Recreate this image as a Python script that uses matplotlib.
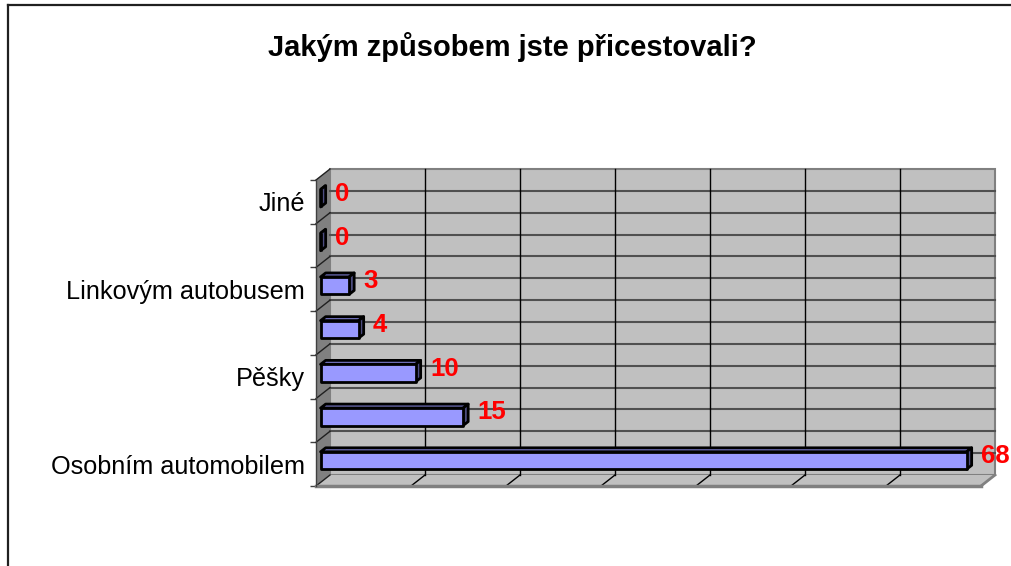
import matplotlib
matplotlib.use("Agg")
import matplotlib.pyplot as plt
import numpy as np
from matplotlib.patches import Polygon
from matplotlib.lines import Line2D

plt.rcParams['font.family'] = ['Liberation Sans', 'DejaVu Sans']

# ---- data (bottom to top) ----
categories = ['Osobním automobilem', '', 'Pěšky', '', 'Linkovým autobusem', '', 'Jiné']
values = [68, 15, 10, 4, 3, 0, 0]
title = 'Jakým způsobem jste přicestovali?'
x_max = 70
x_grid = [10, 20, 30, 40, 50, 60]

W_PX, H_PX = 1011, 566
fig = plt.figure(figsize=(W_PX / 100, H_PX / 100), dpi=100)
fig.patch.set_facecolor('white')

# front plane of the 3D box
left_px, right_px, top_px, bottom_px = 316, 981, 180, 486
ax = fig.add_axes([left_px / W_PX, 1 - bottom_px / H_PX,
                   (right_px - left_px) / W_PX, (bottom_px - top_px) / H_PX])
n = len(categories)
ax.set_xlim(0, x_max)
ax.set_ylim(0, n)
ax.patch.set_visible(False)
for s in ax.spines.values():
    s.set_visible(False)

# depth offset (pixels -> data units)
depth_px = (14, 11)
DX = depth_px[0] / (ax.bbox.width / x_max)
DY = depth_px[1] / (ax.bbox.height / n)


def P(x, y, d):
    return (x + d * DX, y + d * DY)


def poly(pts, **kw):
    p = Polygon(pts, closed=True, clip_on=False, **kw)
    ax.add_patch(p)
    return p


def line(p1, p2, **kw):
    ax.add_line(Line2D([p1[0], p2[0]], [p1[1], p2[1]], clip_on=False, **kw))


# back wall
poly([P(0, 0, 1), P(x_max, 0, 1), P(x_max, n, 1), P(0, n, 1)],
     facecolor='#C0C0C0', edgecolor='#808080', lw=1.5, zorder=1)
for k in np.arange(0.5, n, 0.5):
    line(P(0, k, 1), P(x_max, k, 1), color='#505050', lw=1.5, zorder=2)
for v in x_grid:
    line(P(v, 0, 1), P(v, n, 1), color='black', lw=1.0, zorder=2)

# floor
poly([P(0, 0, 0), P(x_max, 0, 0), P(x_max, 0, 1), P(0, 0, 1)],
     facecolor='#C0C0C0', edgecolor='none', zorder=1)
line(P(0, 0, 0), P(x_max, 0, 0), color='#808080', lw=2.5, zorder=3)
line(P(x_max, 0, 0), P(x_max, 0, 1), color='#808080', lw=2, zorder=3)
for v in x_grid:
    line(P(v, 0, 0), P(v, 0, 1), color='black', lw=1.0, zorder=2)

# left wall
poly([P(0, 0, 0), P(0, n, 0), P(0, n, 1), P(0, 0, 1)],
     facecolor='#808080', edgecolor='none', zorder=1)
for k in range(n + 1):
    line(P(0, k, 0), P(0, k, 1), color='#202020', lw=1.0, zorder=2)
line(P(0, 0, 0), P(0, n, 0), color='#404040', lw=1.0, zorder=3)

# bars
d1, d2 = 0.33, 0.69
h = 0.2
for i in range(n - 1, -1, -1):
    v = values[i]
    c = i + 0.5
    ec = dict(edgecolor='black', lw=2.0, joinstyle='round', zorder=5)
    poly([P(0, c + h, d1), P(v, c + h, d1), P(v, c + h, d2), P(0, c + h, d2)],
         facecolor='#7373BF', **ec)
    poly([P(v, c - h, d1), P(v, c + h, d1), P(v, c + h, d2), P(v, c - h, d2)],
         facecolor='#4D4D80', **ec)
    poly([P(0, c - h, d1), P(v, c - h, d1), P(v, c + h, d1), P(0, c + h, d1)],
         facecolor='#9999FF', **ec)
    ax.annotate(str(v), xy=(v, c), xytext=(19, 8), textcoords='offset pixels',
                ha='left', va='center', color='#FF0000', fontsize=18.5,
                fontweight='bold', zorder=6, annotation_clip=False)

# axes ticks / labels
ax.set_xticks([])
ax.set_yticks(np.arange(n) + 0.5)
ax.set_yticklabels(categories, fontsize=18.2, color='black')
ax.tick_params(axis='y', which='major', length=0, pad=8)
ax.set_yticks(np.arange(n + 1), minor=True)
ax.tick_params(axis='y', which='minor', length=4.5, width=1.0, color='#404040',
               direction='out')

# title
fig.text(512.5 / W_PX, 1 - 47 / H_PX, title, ha='center', va='center',
         fontsize=21, fontweight='bold', color='black')

# chart border (top and left visible)
fig.add_artist(Line2D([7.5 / W_PX, 1.0], [1 - 5 / H_PX, 1 - 5 / H_PX],
                      transform=fig.transFigure, color='#202020', lw=1.6))
fig.add_artist(Line2D([7.5 / W_PX, 7.5 / W_PX], [0, 1 - 5 / H_PX],
                      transform=fig.transFigure, color='#202020', lw=1.6))

fig.savefig('out.png', dpi=100)
